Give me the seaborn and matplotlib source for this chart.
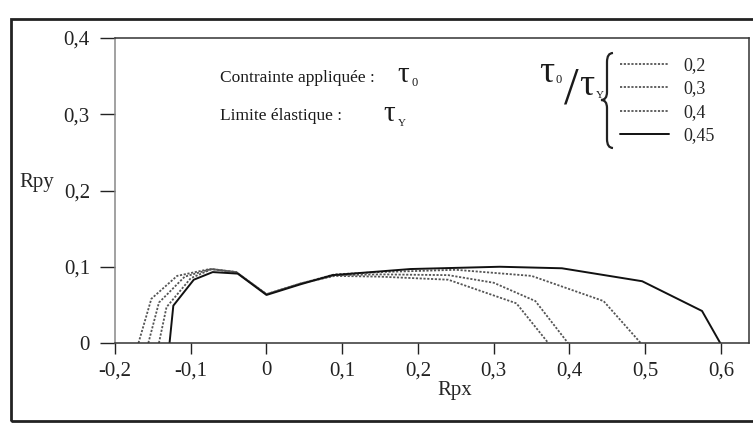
import numpy as np
import pandas as pd
import seaborn as sns
import matplotlib.pyplot as plt
from matplotlib.path import Path
from matplotlib.patches import PathPatch, Rectangle
from matplotlib.lines import Line2D

# ratio tau0/tauY and the Rpx / Rpy points
ratios = ['0,2', '0,3', '0,4', '0,45']

rpx_02 = [-0.169, -0.152, -0.118, -0.075, -0.040, 0.0, 0.045, 0.09, 0.15, 0.24, 0.33, 0.372]
rpy_02 = [0.0, 0.058, 0.088, 0.097, 0.093, 0.064, 0.078, 0.088, 0.087, 0.083, 0.052, 0.0]

rpx_03 = [-0.156, -0.142, -0.108, -0.073, -0.040, 0.0, 0.045, 0.09, 0.15, 0.24, 0.30, 0.355, 0.398]
rpy_03 = [0.0, 0.053, 0.087, 0.097, 0.093, 0.064, 0.078, 0.089, 0.090, 0.089, 0.079, 0.055, 0.0]

rpx_04 = [-0.142, -0.132, -0.100, -0.072, -0.040, 0.0, 0.045, 0.09, 0.15, 0.25, 0.35, 0.445, 0.494]
rpy_04 = [0.0, 0.047, 0.085, 0.097, 0.093, 0.064, 0.078, 0.090, 0.093, 0.096, 0.088, 0.055, 0.0]

rpx_045 = [-0.128, -0.123, -0.096, -0.071, -0.038, 0.0, 0.045, 0.087, 0.19, 0.308, 0.39, 0.496, 0.575, 0.599]
rpy_045 = [0.0, 0.049, 0.083, 0.093, 0.091, 0.063, 0.077, 0.089, 0.097, 0.100, 0.098, 0.081, 0.042, 0.0]

xticks = [-0.2, -0.1, 0, 0.1, 0.2, 0.3, 0.4, 0.5, 0.6]
xtick_labels = ['-0,2', '-0,1', '0', '0,1', '0,2', '0,3', '0,4', '0,5', '0,6']
yticks = [0, 0.1, 0.2, 0.3, 0.4]
ytick_labels = ['0', '0,1', '0,2', '0,3', '0,4']

courbes = [(rpx_02, rpy_02), (rpx_03, rpy_03), (rpx_04, rpy_04), (rpx_045, rpy_045)]

sns.set_style('ticks')
plt.rcParams['font.family'] = ['Liberation Serif', 'DejaVu Serif']

W, H = 753, 425
L, R, T, B = 115, 749, 38, 343
fig = plt.figure(figsize=(W / 100, H / 100), dpi=100)
ax = fig.add_axes([L / W, 1 - B / H, (R - L) / W, (B - T) / H])


def fx(px):
    return (px - L) / (R - L)


def fy(py):
    return (B - py) / (B - T)


def txt(px, py, s, size, **kw):
    kw.setdefault('va', 'center')
    kw.setdefault('ha', 'left')
    ax.text(fx(px), fy(py), s, transform=ax.transAxes, fontsize=size, color='#1a1a1a', **kw)


styles = [dict(color='#555555', linestyle=(0, (1.2, 0.9)), linewidth=1.3)] * 3 + \
         [dict(color='#111111', linestyle='-', linewidth=1.4)]

for (xs, ys), st in zip(courbes, styles):
    sns.lineplot(x=xs, y=ys, ax=ax, estimator=None, sort=False, **st)

ax.set_xlim(-0.2, 0.637)
ax.set_ylim(0, 0.4)
ax.set_xticks(xticks)
ax.set_xticklabels(xtick_labels)
ax.set_yticks(yticks)
ax.set_yticklabels(ytick_labels)
ax.tick_params(axis='both', labelsize=15, colors='#222222', width=1)
ax.tick_params(axis='x', length=8, pad=5)
ax.tick_params(axis='y', length=11, pad=7)
for side in ['left', 'right', 'top', 'bottom']:
    ax.spines[side].set_visible(True)
    ax.spines[side].set_color('#333333')
    ax.spines[side].set_linewidth(1.1)
ax.spines['left'].set_color('#888888')

ax.set_xlabel('Rpx', fontsize=15)
ax.xaxis.set_label_coords(fx(455), fy(381))
ax.set_ylabel('Rpy', fontsize=15, rotation=0, va='center', ha='center')
ax.yaxis.set_label_coords(fx(37), fy(183))

# annotations
txt(220, 78, 'Contrainte appliquée :', 12.5)
txt(397, 75, 'τ', 21)
txt(412, 83, '0', 9)
txt(220, 116, 'Limite élastique :', 12.5)
txt(383, 114, 'τ', 21)
txt(398, 123, 'Y', 8)

# tau0 / tauY with brace
txt(539, 73, 'τ', 27)
txt(556, 80, '0', 9)
txt(571, 91, '/', 38, ha='center', fontweight='light')
txt(579, 86, 'τ', 27)
txt(596, 96, 'Y', 8)

bx = 607
brace = [(bx + 6, 53), (bx, 53), (bx, 62),
         (bx, 92), (bx, 100), (bx - 6, 100),
         (bx, 100), (bx, 108), (bx, 139),
         (bx, 148), (bx + 6, 148)]
verts = [(fx(px), fy(py)) for px, py in brace]
codes = [Path.MOVETO, Path.CURVE3, Path.CURVE3, Path.LINETO, Path.CURVE3, Path.CURVE3,
         Path.CURVE3, Path.CURVE3, Path.LINETO, Path.CURVE3, Path.CURVE3]
ax.add_patch(PathPatch(Path(verts, codes), transform=ax.transAxes, fill=False,
                       lw=1.6, edgecolor='#222222', clip_on=False))

handles = [Line2D([], [], **st) for st in styles]
ax.legend(handles, ratios, loc='upper left', bbox_to_anchor=(620 / W, 1 - 57 / H),
          bbox_transform=fig.transFigure, frameon=False, fontsize=13,
          handlelength=2.7, handletextpad=0.8, labelspacing=0.36,
          borderpad=0, borderaxespad=0)

# scanned page frame
fig.add_artist(Rectangle((11 / W, 1 - 421 / H), 760 / W, 402 / H, transform=fig.transFigure,
                         fill=False, lw=2, edgecolor='#222222'))

fig.savefig('out.png', dpi=100)
